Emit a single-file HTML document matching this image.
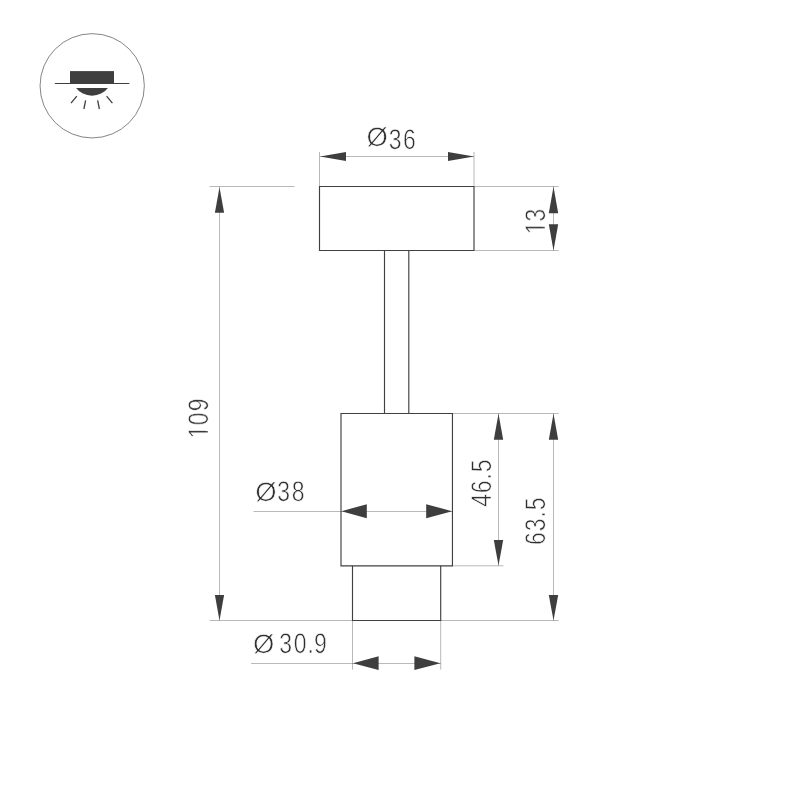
<!DOCTYPE html>
<html lang="en">
<head>
<meta charset="utf-8">
<title>Dimension drawing</title>
<style>
html,body{margin:0;padding:0;background:#fff;}
body{width:800px;height:800px;overflow:hidden;}
svg{display:block;will-change:transform;}
.t{font-family:"Liberation Sans",sans-serif;fill:#303030;stroke:#fff;paint-order:fill stroke;text-rendering:geometricPrecision;stroke-linejoin:round;}
</style>
</head>
<body>
<svg width="800" height="800" viewBox="0 0 800 800">
<defs><filter id="noaa" x="0" y="0" width="800" height="800" filterUnits="userSpaceOnUse"><feOffset dx="0" dy="0"/></filter></defs>
<rect width="800" height="800" fill="#fff"/>
<circle cx="92.2" cy="85.8" r="52.15" fill="none" stroke="#505050" stroke-width="0.7"/>
<rect x="70" y="71.1" width="44" height="12.6" fill="#3f3f3f"/>
<line x1="55.3" y1="83.5" x2="128.9" y2="83.5" stroke="#3f3f3f" stroke-width="1.2" stroke-linecap="round"/>
<path d="M76.15 88.05 H107.85 A18.5 15.7 0 0 1 76.15 88.05 Z" fill="#3f3f3f"/>
<line x1="76.8" y1="96.2" x2="71.0" y2="103.2" stroke="#3f3f3f" stroke-width="1.3"/>
<line x1="85.6" y1="100.4" x2="83.9" y2="109.0" stroke="#3f3f3f" stroke-width="1.3"/>
<line x1="97.6" y1="100.4" x2="99.4" y2="109.0" stroke="#3f3f3f" stroke-width="1.3"/>
<line x1="106.6" y1="96.2" x2="112.4" y2="103.2" stroke="#3f3f3f" stroke-width="1.3"/>
<line x1="319.5" y1="152" x2="319.5" y2="186.5" stroke="#444" stroke-width="0.38"/>
<line x1="474.0" y1="152" x2="474.0" y2="186.5" stroke="#444" stroke-width="0.38"/>
<line x1="320" y1="156.5" x2="474" y2="156.5" stroke="#444" stroke-width="0.38"/>
<polygon points="320.00,156.50 346.00,152.05 346.00,160.95" fill="#3e3e3e"/>
<polygon points="474.00,156.50 448.00,152.05 448.00,160.95" fill="#3e3e3e"/>
<line x1="474.5" y1="186.5" x2="558.7" y2="186.5" stroke="#444" stroke-width="0.38"/>
<line x1="474.5" y1="250.5" x2="558.7" y2="250.5" stroke="#444" stroke-width="0.38"/>
<line x1="553.5" y1="186.5" x2="553.5" y2="250.5" stroke="#444" stroke-width="0.38"/>
<polygon points="553.50,186.80 548.80,213.20 558.20,213.20" fill="#3e3e3e"/>
<polygon points="553.50,250.40 548.80,224.30 558.20,224.30" fill="#3e3e3e"/>
<line x1="209.5" y1="186.5" x2="294.6" y2="186.5" stroke="#444" stroke-width="0.38"/>
<line x1="209.5" y1="620.5" x2="352.5" y2="620.5" stroke="#444" stroke-width="0.38"/>
<line x1="219.5" y1="186.5" x2="219.5" y2="620.5" stroke="#444" stroke-width="0.38"/>
<polygon points="219.50,187.20 214.90,212.80 224.10,212.80" fill="#3e3e3e"/>
<polygon points="219.50,620.40 214.90,594.90 224.10,594.90" fill="#3e3e3e"/>
<line x1="253.6" y1="511.5" x2="452.4" y2="511.5" stroke="#444" stroke-width="0.38"/>
<polygon points="341.40,511.20 366.80,504.25 366.80,518.15" fill="#3e3e3e"/>
<polygon points="452.20,511.20 426.20,504.25 426.20,518.15" fill="#3e3e3e"/>
<line x1="352.5" y1="620.5" x2="352.5" y2="669.6" stroke="#444" stroke-width="0.38"/>
<line x1="440.7" y1="620.5" x2="440.7" y2="669.6" stroke="#444" stroke-width="0.38"/>
<line x1="251.1" y1="663.5" x2="440.7" y2="663.5" stroke="#444" stroke-width="0.38"/>
<polygon points="353.00,663.20 378.60,656.30 378.60,670.10" fill="#3e3e3e"/>
<polygon points="440.40,663.20 414.40,656.30 414.40,670.10" fill="#3e3e3e"/>
<line x1="452.5" y1="413.5" x2="558.7" y2="413.5" stroke="#444" stroke-width="0.38"/>
<line x1="452.5" y1="565.8" x2="503.5" y2="565.8" stroke="#444" stroke-width="0.38"/>
<line x1="498.5" y1="413.5" x2="498.5" y2="565.8" stroke="#444" stroke-width="0.38"/>
<polygon points="498.50,413.80 493.80,439.80 503.20,439.80" fill="#3e3e3e"/>
<polygon points="498.50,565.60 493.80,540.10 503.20,540.10" fill="#3e3e3e"/>
<line x1="440.7" y1="620.5" x2="558.7" y2="620.5" stroke="#444" stroke-width="0.38"/>
<line x1="553.5" y1="413.5" x2="553.5" y2="620.5" stroke="#444" stroke-width="0.38"/>
<polygon points="553.50,413.80 548.80,439.80 558.20,439.80" fill="#3e3e3e"/>
<polygon points="553.50,620.40 548.80,594.90 558.20,594.90" fill="#3e3e3e"/>
<path d="M319.5 186.5 H474 V250.5 H319.5 Z" fill="none" stroke="#404040" stroke-width="1.15"/>
<line x1="384.5" y1="250.5" x2="384.5" y2="413.5" stroke="#404040" stroke-width="1.15"/>
<line x1="408.8" y1="250.5" x2="408.8" y2="413.5" stroke="#404040" stroke-width="1.15"/>
<path d="M341 413.5 H452.45 V565.8 H341 Z" fill="none" stroke="#404040" stroke-width="1.15"/>
<path d="M352.5 565.8 V620.5 H440.7 V565.8" fill="none" stroke="#404040" stroke-width="1.15"/>
<g filter="url(#noaa)">
<text class="t" transform="translate(0 149) scale(0.81 1)" font-size="28.4" stroke-width="0.6"><tspan x="452.58" y="-3" font-size="26.5" textLength="26.34" lengthAdjust="spacingAndGlyphs">Ø</tspan><tspan x="479.84 497.56" y="0">36</tspan></text>
<text class="t" transform="translate(0 501) scale(0.81 1)" font-size="28.4" stroke-width="0.6"><tspan x="314.99" y="0" font-size="26.5" textLength="26.34" lengthAdjust="spacingAndGlyphs">Ø</tspan><tspan x="342.43 360.13" y="0">38</tspan></text>
<text class="t" transform="translate(0 653) scale(0.81 1)" font-size="28.4" stroke-width="0.6"><tspan x="312.46" y="0" font-size="26.5" textLength="26.34" lengthAdjust="spacingAndGlyphs">Ø</tspan><tspan x="340.74 344.78 362.6 379.64 387.54" y="0"> 30.9</tspan></text>
<clipPath id="c1"><path clip-rule="evenodd" d="M-2000 -2000H2000V2000H-2000ZM-287.89 -2.7H-281.78V0.55H-287.89ZM-279.99 -2.7H-274.02V0.55H-279.99Z"/></clipPath>
<text class="t" clip-path="url(#c1)" transform="translate(545 0) rotate(-90) scale(0.81 1)" x="-289.28 -273.49" y="0" font-size="28.4" stroke-width="0.6">13</text>
<clipPath id="c2"><path clip-rule="evenodd" d="M-2000 -2000H2000V2000H-2000ZM-539.99 -2.7H-533.87V0.55H-539.99ZM-532.09 -2.7H-526.12V0.55H-532.09Z"/></clipPath>
<text class="t" clip-path="url(#c2)" transform="translate(208 0) rotate(-90) scale(0.81 1)" x="-541.38 -525.06 -507.89" y="0" font-size="28.4" stroke-width="0.6">109</text>
<text class="t" transform="translate(491 0) rotate(-90) scale(0.81 1)" x="-625.59 -608.92 -591.91 -583.05" y="0" font-size="28.4" stroke-width="0.6">46.5</text>
<text class="t" transform="translate(545 0) rotate(-90) scale(0.81 1)" x="-672.93 -655.96 -639.01 -629.97" y="0" font-size="28.4" stroke-width="0.6">63.5</text>
</g>
</svg>
</body>
</html>
